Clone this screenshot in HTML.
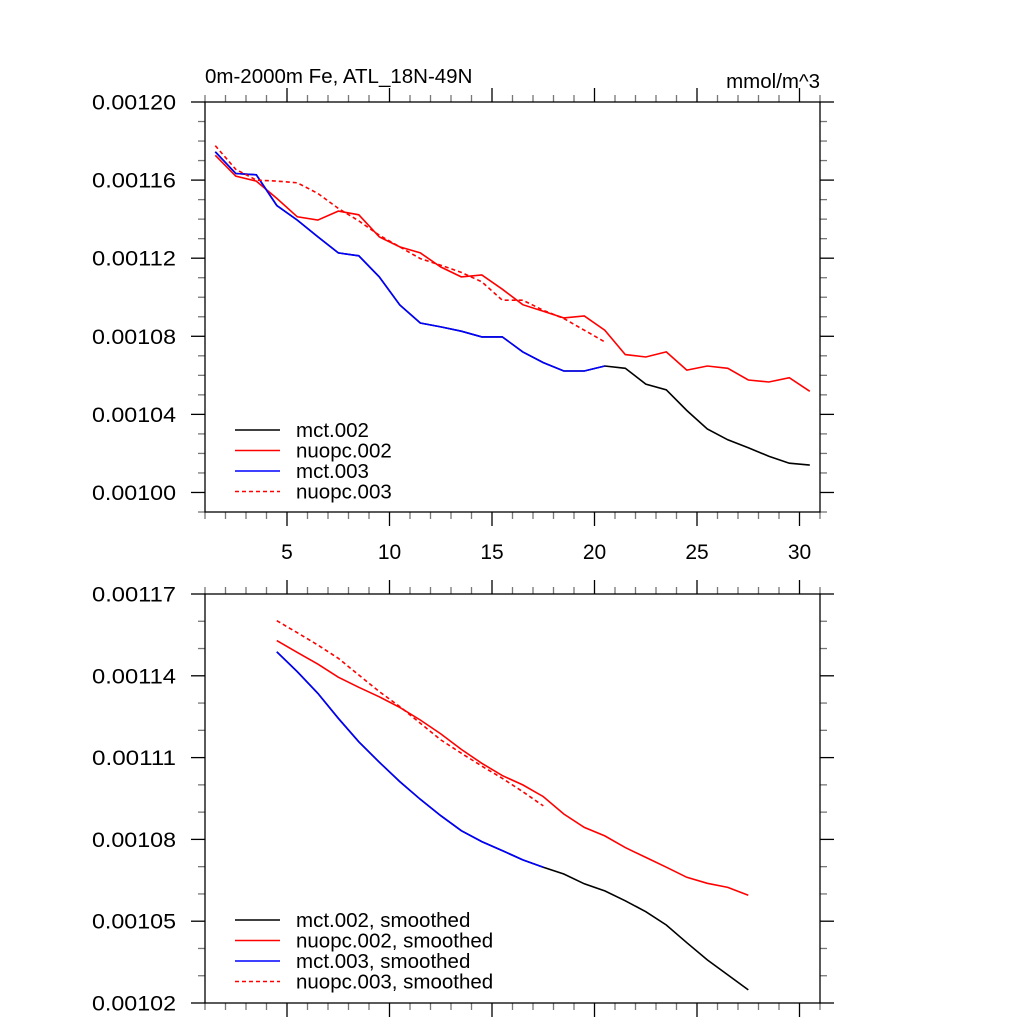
<!DOCTYPE html>
<html><head><meta charset="utf-8"><style>
html,body{margin:0;padding:0;background:#fff;}
svg{display:block;font-family:"Liberation Sans",sans-serif;}
</style></head><body>
<svg id="chart" width="1024" height="1024" viewBox="0 0 1024 1024"></svg>
<script>
// ---- data (values in units of 1e-5 mmol/m^3) ----
const rawX = [1.5,2.5,3.5,4.5,5.5,6.5,7.5,8.5,9.5,10.5,11.5,12.5,13.5,14.5,15.5,16.5,17.5,18.5,19.5,20.5,21.5,22.5,23.5,24.5,25.5,26.5,27.5,28.5,29.5,30.5];
const mct002 = [117.45,116.34,116.27,114.70,113.95,113.10,112.27,112.12,111.04,109.60,108.68,108.48,108.26,107.97,107.97,107.20,106.65,106.22,106.22,106.48,106.36,105.55,105.26,104.20,103.25,102.70,102.29,101.86,101.50,101.40];
const nuopc002 = [117.27,116.20,115.95,115.06,114.12,113.95,114.41,114.22,113.09,112.58,112.27,111.55,111.04,111.14,110.41,109.62,109.28,108.94,109.04,108.31,107.06,106.94,107.20,106.27,106.48,106.36,105.76,105.66,105.88,105.18];
const mct003 = [117.45,116.34,116.27,114.70,113.95,113.10,112.27,112.12,111.04,109.60,108.68,108.48,108.26,107.97,107.97,107.20,106.65,106.22,106.22,106.48];
const nuopc003 = [117.76,116.55,116.00,115.95,115.86,115.32,114.55,113.91,113.18,112.58,111.98,111.64,111.27,110.79,109.85,109.85,109.33,108.91,108.31,107.71];
const smoothX = [4.5,5.5,6.5,7.5,8.5,9.5,10.5,11.5,12.5,13.5,14.5,15.5,16.5,17.5,18.5,19.5,20.5,21.5,22.5,23.5,24.5,25.5,26.5,27.5];
const mct002s = [114.88,114.15,113.36,112.44,111.58,110.83,110.12,109.47,108.87,108.32,107.92,107.59,107.25,106.98,106.73,106.37,106.11,105.75,105.35,104.86,104.21,103.58,103.03,102.48];
const nuopc002s = [115.29,114.86,114.43,113.95,113.58,113.23,112.84,112.38,111.87,111.30,110.79,110.34,110.00,109.57,108.93,108.44,108.13,107.70,107.34,106.98,106.61,106.39,106.24,105.95];
const mct003s = [114.88,114.15,113.36,112.44,111.58,110.83,110.12,109.47,108.87,108.32,107.92,107.59,107.25,106.98];
const nuopc003s = [116.02,115.58,115.13,114.64,114.03,113.42,112.87,112.26,111.65,111.16,110.69,110.24,109.75,109.23];
const xTickLabels = ["5","10","15","20","25","30"];
const topYTicks = ["0.00100","0.00104","0.00108","0.00112","0.00116","0.00120"];
const topYVals = [100,104,108,112,116,120];
const botYTicks = ["0.00102","0.00105","0.00108","0.00111","0.00114","0.00117"];
const botYVals = [102,105,108,111,114,117];
const legendTop = ["mct.002","nuopc.002","mct.003","nuopc.003"];
const legendBot = ["mct.002, smoothed","nuopc.002, smoothed","mct.003, smoothed","nuopc.003, smoothed"];

const NS="http://www.w3.org/2000/svg";
const svg=document.getElementById('chart');
function mk(tag,attrs,parent){const e=document.createElementNS(NS,tag);for(const k in attrs)e.setAttribute(k,attrs[k]);(parent||svg).appendChild(e);return e;}

const X0=205,X1=820;
function xs(v){return X0+(v-1)/30*(X1-X0);}

function panel(name,top,bottom,ymin,ymax,yLabels,yVals,showXLabels,series,legend,legY){
  const g=mk('g',{});
  
  
  const ys=v=>bottom-(v-ymin)/(ymax-ymin)*(bottom-top);
  for(let x=1;x<=31;x++){
    const major=x%5===0, len=major?14:7, col=major?'#000':'#777';
    [[top,-1],[bottom,1]].forEach(([y,d])=>{
      const t=mk('line',{x1:xs(x),x2:xs(x),y1:y,y2:y+d*len,stroke:col,'stroke-width':1.3},g);
      
      
    });
  }
  for(let v=Math.ceil(ymin);v<=ymax;v++){
    const y=ys(v), major=yVals.indexOf(v)>=0;
    const len=major?14:7,col=major?'#000':'#777';
    [[X0,-1],[X1,1]].forEach(([x,d])=>{
      const t=mk('line',{x1:x,x2:x+d*len,y1:y,y2:y,stroke:col,'stroke-width':1.3},g);
      
      
    });
  }
  yLabels.forEach((lab,i)=>{
    const t=mk('text',{x:176,y:ys(yVals[i])+7.5,'font-size':21,'text-anchor':'end',textLength:84,lengthAdjust:'spacingAndGlyphs'},g);
    t.textContent=lab;
    
    
  });
  if(showXLabels){
    xTickLabels.forEach((lab,i)=>{
      const t=mk('text',{x:xs((i+1)*5),y:bottom+47,'font-size':21,'text-anchor':'middle'},g);
      t.textContent=lab;
      
      
    });
  }
  const fr=mk('rect',{x:X0,y:top,width:X1-X0,height:bottom-top,fill:'none',stroke:'#000','stroke-width':1.3},g);
  
  
  series.forEach(s=>{
    const pts=s.x.map((xv,i)=>xs(xv).toFixed(1)+','+ys(s.y[i]).toFixed(1)).join(' ');
    const p=mk('polyline',{points:pts,fill:'none',stroke:s.c,'stroke-width':1.6,'stroke-dasharray':s.d||'none'},g);
    
    
  });
  const cols=['#000','#f00','#00f','#f00'];
  legend.forEach((lab,i)=>{
    const y=legY+i*20.5;
    const l=mk('line',{x1:235,x2:280,y1:y,y2:y,stroke:cols[i],'stroke-width':1.6,'stroke-dasharray':i===3?'4,3':'none'},g);
    
    
    const t=mk('text',{x:296,y:y+7,'font-size':20.5},g);
    t.textContent=lab;
    
    
  });
}

panel('top-panel',102,512,99,120,topYTicks,topYVals,true,[
  {n:'line-mct002',x:rawX,y:mct002,c:'#000'},
  {n:'line-nuopc002',x:rawX,y:nuopc002,c:'#f00'},
  {n:'line-mct003',x:rawX.slice(0,mct003.length),y:mct003,c:'#00f'},
  {n:'line-nuopc003',x:rawX.slice(0,nuopc003.length),y:nuopc003,c:'#f00',d:'4,3'}
],legendTop,430);

panel('bottom-panel',594,1003,102,117,botYTicks,botYVals,false,[
  {n:'line-mct002-smoothed',x:smoothX,y:mct002s,c:'#000'},
  {n:'line-nuopc002-smoothed',x:smoothX,y:nuopc002s,c:'#f00'},
  {n:'line-mct003-smoothed',x:smoothX.slice(0,mct003s.length),y:mct003s,c:'#00f'},
  {n:'line-nuopc003-smoothed',x:smoothX.slice(0,nuopc003s.length),y:nuopc003s,c:'#f00',d:'4,3'}
],legendBot,920);

const t1=mk('text',{x:205,y:83,'font-size':20.5});
t1.textContent='0m-2000m Fe, ATL_18N-49N';


const t2=mk('text',{x:820,y:88,'font-size':20.5,'text-anchor':'end'});
t2.textContent='mmol/m^3';


</script>
</body></html>
